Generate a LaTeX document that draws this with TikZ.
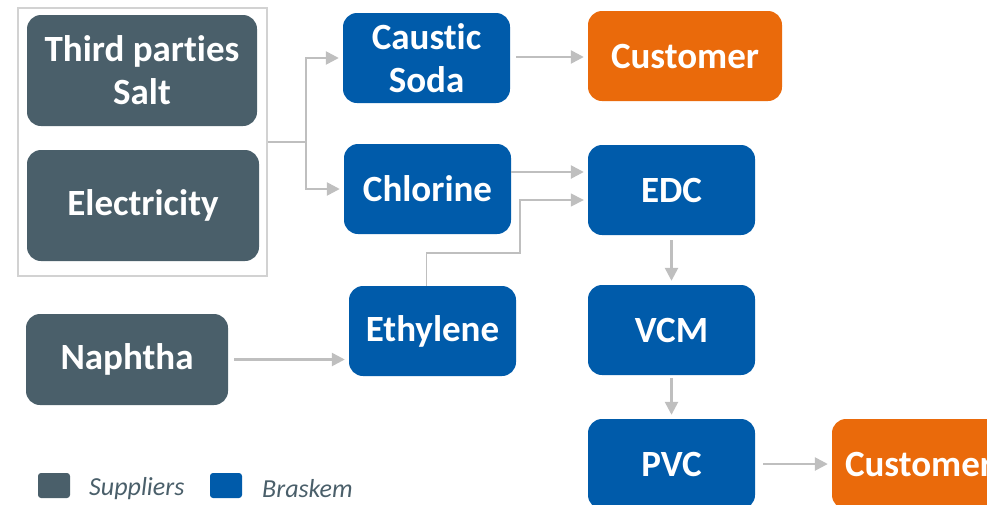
\documentclass[tikz,border=0pt]{standalone}
\usepackage{fontspec}
\setmainfont{Carlito}[Ligatures=NoCommon]
\usetikzlibrary{arrows.meta}
\definecolor{suppcol}{HTML}{4A5F6A}
\definecolor{braskcol}{HTML}{005BAA}
\definecolor{custcol}{HTML}{EA6A0B}
\definecolor{linecol}{HTML}{BFBFBF}

\begin{document}
\begin{tikzpicture}[x=1pt,y=-1pt,
		box/.style={rounded corners=14pt, text=white, align=center,
			font=\fontsize{37}{43}\selectfont\bfseries, inner sep=0pt},
		supp/.style={box, fill=suppcol},
		brask/.style={box, fill=braskcol, minimum width=167pt, minimum height=90pt},
		cust/.style={box, fill=custcol, minimum height=90pt},
		conn/.style={draw=linecol, line width=2.5pt},
		arr/.style={conn, -{Triangle[length=13pt,width=13pt]}, shorten >=4pt},
		thinarr/.style={draw=linecol, line width=1.5pt, -{Triangle[length=13pt,width=13pt]}, shorten >=4pt},
		legsq/.style={rounded corners=3pt, minimum width=32pt, minimum height=25pt, inner sep=0pt},
		legtxt/.style={text=suppcol, font=\fontsize{26}{30}\selectfont\itshape, anchor=west, inner sep=0pt}]
		\useasboundingbox (0,0) rectangle (987,504);
		\clip (0,0) rectangle (987,504);
		% suppliers
		\node[draw=linecol!70, line width=1.5pt, minimum width=249pt, minimum height=268pt] (supframe) at (142.5,142) {};
		\node[supp, minimum width=230pt, minimum height=111pt] (salt) at (142,70.5) {Third parties\\Salt};
		\node[supp, minimum width=232pt, minimum height=111pt] (elec) at (143,205.5) {Electricity};
		\node[supp, minimum width=202pt, minimum height=91pt] (naphtha) at (127,359.5) {Naphtha};
		% braskem
		\node[brask] (caustic) at (426.5,58) {Caustic\\Soda};
		\node[brask] (chlorine) at (427.5,189) {Chlorine};
		\node[brask] (ethylene) at (432.5,331) {Ethylene};
		\node[brask] (edc) at (671.5,190) {EDC};
		\node[brask] (vcm) at (671.5,330) {VCM};
		\node[brask] (pvc) at (671.5,464) {PVC};
		% customers
		\node[cust, minimum width=194pt] (custa) at (685,56) {Customer};
		\node[cust, minimum width=174pt] (custb) at (919,464) {Customer};
		% connectors
		\draw[conn] (supframe.east) -- ++(38,0) coordinate (split);
		\draw[arr] (split) |- (caustic.west);
		\draw[arr] (split) |- (chlorine.west);
		\draw[arr, shorten <=6pt] (caustic.east |- 0,57) -- (custa.west |- 0,57);
		\draw[arr] (chlorine.east |- 0,172) -- (edc.west |- 0,172);
		\draw[thinarr] ([xshift=-6pt]ethylene.north) |- (520,253) |- (edc.west |- 0,200);
		\draw[arr, shorten <=6pt] (naphtha.east) -- (ethylene.west |- naphtha.east);
		\draw[arr, shorten <=5pt] (edc.south) -- (vcm.north);
		\draw[arr, shorten <=3pt] (vcm.south) -- (pvc.north);
		\draw[arr, shorten <=8pt] (pvc.east) -- (custb.west |- pvc.east);
		% legend
		\node[legsq, fill=suppcol] (legsupp) at (54,485.5) {};
		\node[legtxt] (legsupptxt) at (89,488.5) {Suppliers};
		\node[legsq, fill=braskcol] (legbrask) at (226,485.5) {};
		\node[legtxt] (legbrasktxt) at (262,488.5) {Braskem};
	\end{tikzpicture}
\end{document}
